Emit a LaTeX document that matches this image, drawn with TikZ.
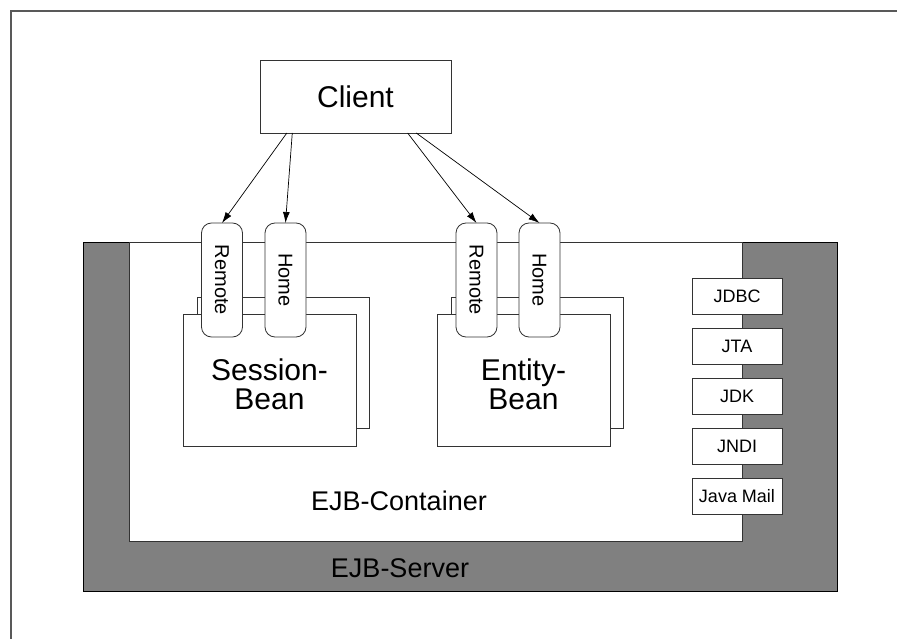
\documentclass[tikz,border=0pt]{standalone}
\usepackage{fontspec}
\setmainfont{Liberation Sans}
\usetikzlibrary{arrows.meta}

\begin{document}
\begin{tikzpicture}
  [x=1pt,y=-1pt,every node/.style={inner sep=0pt,outer sep=0pt},
   box/.style={rectangle,draw=black!80,fill=white,line width=0.8pt},
   bean/.style={box,minimum width=173pt,minimum height=132pt},
   iface/.style={box,rounded corners=10pt,minimum width=41pt,minimum height=114pt,font=\fontsize{20}{24}\selectfont},
   lib/.style={box,minimum width=90pt,minimum height=36pt,font=\fontsize{18}{22}\selectfont},
   big/.style={font=\fontsize{30}{29}\selectfont,align=center},
   call/.style={-{Latex[length=11pt,width=7pt]},line width=0.7pt}]
  \useasboundingbox (0,0) rectangle (897,639);
  \draw[black!65,line width=1.2pt] (11,639) -- (11,11) -- (897,11);

  % server and container
  \node[box,draw=black,fill=black!50,minimum width=754pt,minimum height=349pt] (server) at (460,416.5) {};
  \node[box,minimum width=613pt,minimum height=299pt] (container) at (435.5,391.5) {};
  \node[font=\fontsize{27}{30}\selectfont,anchor=base] (serverlabel) at (400,577) {EJB-Server};
  \node[font=\fontsize{27}{30}\selectfont,anchor=base] (containerlabel) at (399,510) {EJB-Container};

  % beans
  \node[bean,minimum width=172pt,minimum height=131pt] (sback) at (283,362.5) {};
  \node[bean] (sfront) at (269.5,380) {};
  \node[big] (stext) at (269.5,384) {Session-\\Bean};
  \node[bean,minimum width=172pt,minimum height=131pt] (eback) at (537,362.5) {};
  \node[bean] (efront) at (523.5,380) {};
  \node[big] (etext) at (523.5,384) {Entity-\\Bean};

  \node[iface] (sremote) at (222,280)   {\rotatebox{-90}{Remote}};
  \node[iface] (shome)   at (285.5,280) {\rotatebox{-90}{Home}};
  \node[iface] (eremote) at (476.5,280) {\rotatebox{-90}{Remote}};
  \node[iface] (ehome)   at (539.5,280) {\rotatebox{-90}{Home}};

  % services
  \foreach \id/\txt/\y in {jdbc/JDBC/296,jta/JTA/346,jdk/JDK/396,jndi/JNDI/446,mail/Java Mail/496}
    \node[lib] (\id) at (737,\y) {\txt};

  \node[box,minimum width=191pt,minimum height=73pt,font=\fontsize{30}{36}\selectfont] (client) at (355.5,96.5) {Client};

  \foreach \ang/\to in {-152/sremote,-150/shome,-35.3/eremote,-31.5/ehome}
    \draw[call] (client.\ang) -- (\to.north);
\end{tikzpicture}
\end{document}
